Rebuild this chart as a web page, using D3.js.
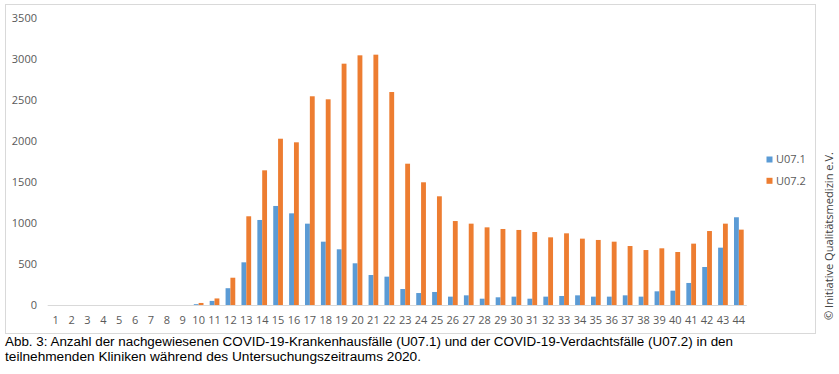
<!DOCTYPE html>
<html>
<head>
<meta charset="utf-8">
<script src="https://cdn.jsdelivr.net/npm/d3@7"></script>
<style>
  body { margin: 0; background: #fff; }
  svg { display: block; font-family: "Open Sans", "Liberation Sans", sans-serif; }
</style>
</head>
<body>
<div id="chart"></div>
<script>
/**
 * DATA
 * */
const weeks = d3.range(1, 45).map(String);
const series = ["U07.1", "U07.2"];
const colors = ["#5b9bd5", "#ed7d31"];

const u071 = [0, 0, 0, 0, 0, 0, 0, 0, 0, 10, 50, 205, 521, 1038, 1209, 1119, 993, 773, 680, 509,
  366, 346, 195, 146, 159, 102, 118, 77, 94, 102, 77, 102, 110, 118, 102, 102, 118, 102, 167, 175,
  269, 464, 700, 1071];
const u072 = [0, 0, 0, 0, 0, 0, 0, 0, 0, 25, 80, 333, 1083, 1644, 2030, 1986, 2548, 2511, 2946, 3048,
  3056, 2600, 1725, 1498, 1327, 1025, 993, 948, 928, 916, 891, 826, 875, 810, 794, 773, 720, 671, 692, 647,
  749, 903, 993, 920];

const yTicks = d3.range(0, 3501, 500);
const caption = [
  "Abb. 3: Anzahl der nachgewiesenen COVID-19-Krankenhausfälle (U07.1) und der COVID-19-Verdachtsfälle (U07.2) in den",
  "teilnehmenden Kliniken während des Untersuchungszeitraums 2020."
];
const credit = "© Initiative  Qualitätsmedizin e.V.";

/**
 * LAYOUT
 * */
const width = 839, height = 374;
const plot = { left: 47.7, right: 746.8, top: 18.3, bottom: 305 };

const svg = d3.select("#chart").append("svg")
  .attr("width", width)
  .attr("height", height);

// outer frame of the chart area
svg.append("rect")
  .attr("x", 5.5).attr("y", 4.5)
  .attr("width", 810).attr("height", 329)
  .attr("fill", "none")
  .attr("stroke", "#d9d9d9");

const x = d3.scaleBand()
  .domain(weeks)
  .range([plot.left, plot.right])
  .paddingInner(0.39)
  .paddingOuter(0.195);

const xSub = d3.scaleBand()
  .domain(series)
  .range([0, x.bandwidth()]);

const y = d3.scaleLinear()
  .domain([0, 3500])
  .range([plot.bottom, plot.top]);

// y labels (no gridlines in the original)
svg.append("g")
  .selectAll("text")
  .data(yTicks)
  .join("text")
  .attr("x", 37)
  .attr("y", d => y(d))
  .attr("dy", "0.35em")
  .attr("text-anchor", "end")
  .attr("font-size", 11)
  .attr("fill", "#595959")
  .text(d => d);

// bars
const rows = weeks.map((w, i) => ({ week: w, values: [u071[i], u072[i]] }));

const groups = svg.append("g")
  .selectAll("g")
  .data(rows)
  .join("g")
  .attr("transform", d => `translate(${x(d.week)},0)`);

groups.selectAll("rect")
  .data(d => d.values.map((v, j) => ({ key: series[j], value: v, c: colors[j] })))
  .join("rect")
  .attr("x", d => xSub(d.key))
  .attr("width", xSub.bandwidth())
  .attr("y", d => y(d.value))
  .attr("height", d => y(0) - y(d.value))
  .attr("fill", d => d.c);

// x axis line + labels
svg.append("line")
  .attr("x1", plot.left).attr("x2", plot.right)
  .attr("y1", y(0) + 0.5).attr("y2", y(0) + 0.5)
  .attr("stroke", "#d9d9d9");

svg.append("g")
  .selectAll("text")
  .data(weeks)
  .join("text")
  .attr("x", d => x(d) + x.bandwidth() / 2)
  .attr("y", 320)
  .attr("dy", "0.35em")
  .attr("text-anchor", "middle")
  .attr("font-size", 11)
  .attr("fill", "#595959")
  .text(d => d);

// legend
const legend = svg.append("g")
  .selectAll("g")
  .data(series)
  .join("g")
  .attr("transform", (d, i) => `translate(766.5,${159.5 + i * 21.3})`);

legend.append("rect")
  .attr("x", 0).attr("y", -3)
  .attr("width", 6).attr("height", 6)
  .attr("fill", (d, i) => colors[i]);

legend.append("text")
  .attr("x", 9.5)
  .attr("dy", "0.35em")
  .attr("font-size", 11)
  .attr("fill", "#595959")
  .text(d => d);

// vertical credit
svg.append("text")
  .attr("transform", "translate(833,236) rotate(-90)")
  .attr("text-anchor", "middle")
  .attr("font-size", 11.5)
  .attr("fill", "#404040")
  .attr("textLength", 168)
  .attr("lengthAdjust", "spacingAndGlyphs")
  .text(credit);

// caption
svg.append("g")
  .selectAll("text")
  .data(caption)
  .join("text")
  .attr("x", 5)
  .attr("y", (d, i) => 346 + i * 14.7)
  .attr("font-family", "'Liberation Sans', sans-serif")
  .attr("font-size", 12.5)
  .attr("fill", "#000")
  .attr("textLength", (d, i) => i === 0 ? 728 : 416)
  .attr("lengthAdjust", "spacingAndGlyphs")
  .text(d => d);
</script>
</body>
</html>
